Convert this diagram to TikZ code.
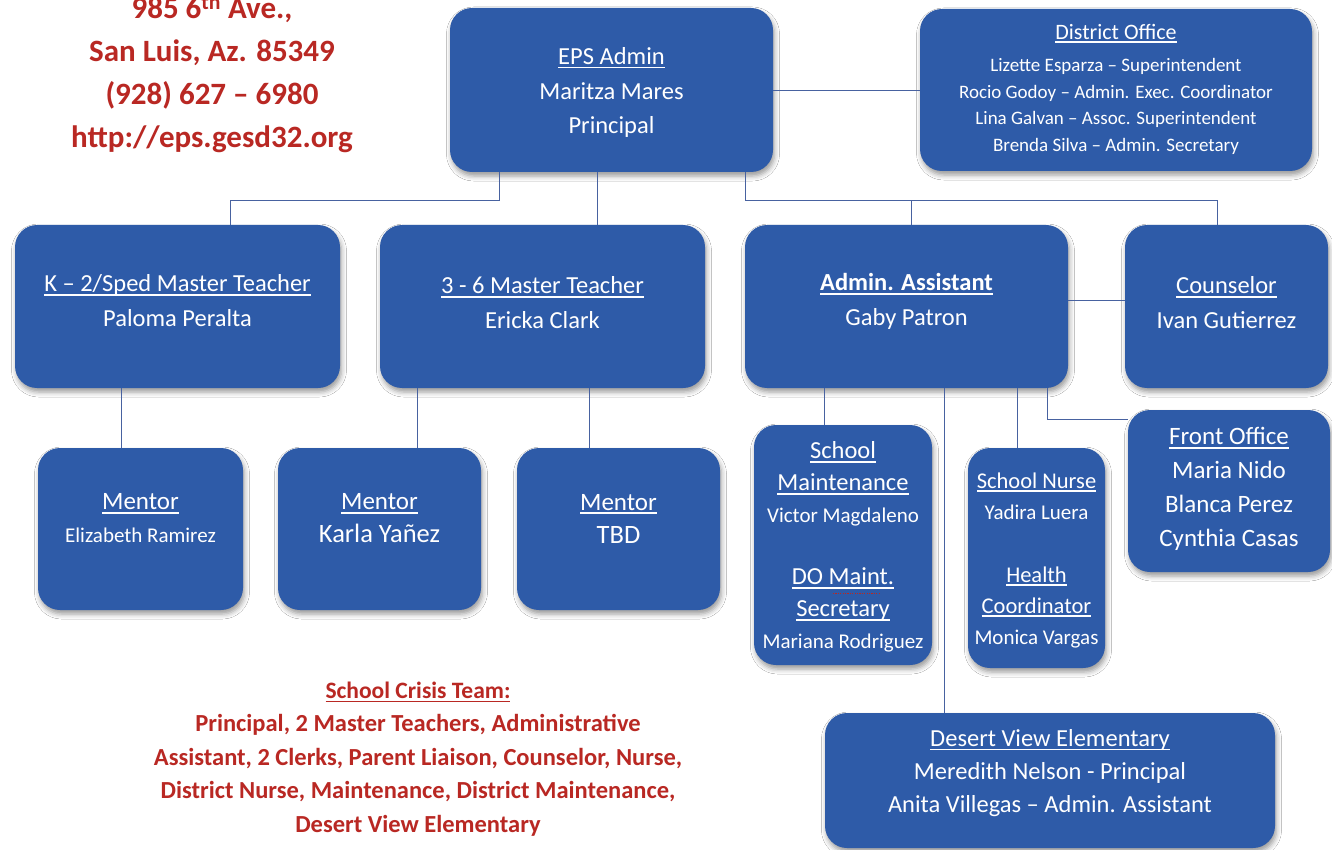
\documentclass[tikz,border=0pt]{standalone}
\usepackage{fontspec}
\setmainfont{Carlito}
\usetikzlibrary{shadows.blur,calc}

\definecolor{boxblue}{RGB}{46,91,168}
\definecolor{linkblue}{RGB}{72,98,160}
\definecolor{crisisred}{RGB}{185,40,35}

% underline at a fixed depth, crossing descenders like a word processor does
\newsavebox\ulbox
\newcommand\ulx[1]{\sbox\ulbox{#1}\rlap{\rule[-0.16em]{\wd\ulbox}{0.065em}}\usebox\ulbox}
\newcommand\fs[2]{\fontsize{#1}{#2}\selectfont}

\tikzset{
  orgbox/.style={draw=none, fill=boxblue, rounded corners=22pt, inner sep=0pt,
    blur shadow={shadow xshift=1.5pt, shadow yshift=-4pt, shadow opacity=40, shadow blur radius=5pt}},
  boxtext/.style={text=white, align=center, inner sep=0pt, font=\fs{24.5}{34.5}},
  link/.style={draw=linkblue, line width=0.9pt},
  redtext/.style={text=crisisred, align=center, inner sep=0pt}
}

\begin{document}
\begin{tikzpicture}[x=1pt,y=-1pt]
\useasboundingbox (0,0) rectangle (1332,850);
\clip (0,0) rectangle (1332,850);
\fill[white] (0,0) rectangle (1332,850);

% ---- boxes ----
\node[orgbox, minimum width=323pt, minimum height=164pt] (eps)   at (611.5,90)  {};
\node[orgbox, minimum width=392pt, minimum height=162pt] (dist)  at (1116,90)   {};
\node[orgbox, minimum width=325pt, minimum height=163pt] (k2)    at (177.5,306.5) {};
\node[orgbox, minimum width=325pt, minimum height=163pt] (t36)   at (542.5,306.5) {};
\node[orgbox, minimum width=323pt, minimum height=163pt] (asst)  at (906.5,306.5) {};
\node[orgbox, minimum width=203pt, minimum height=163pt] (couns) at (1226.5,306.5) {};
\node[orgbox, minimum width=205pt, minimum height=162pt] (m1)    at (140.5,529) {};
\node[orgbox, minimum width=203pt, minimum height=162pt] (m2)    at (379.5,529) {};
\node[orgbox, minimum width=203pt, minimum height=162pt] (m3)    at (618.5,529) {};
\node[orgbox, minimum width=178pt, minimum height=240pt] (maint) at (843,545) {};
\node[orgbox, minimum width=137pt, minimum height=220pt] (nurse) at (1036.5,558) {};
\node[orgbox, minimum width=202pt, minimum height=162pt] (front) at (1229,491) {};
\node[orgbox, minimum width=450pt, minimum height=135pt] (dv)    at (1050,780.5) {};

% ---- connectors ----
\coordinate (busR) at ($(eps.south)+(0,28)$);
\draw[link] (eps.east) -- (dist.west);
\draw[link] ([xshift=50pt]eps.south west) -- ++(0,28) -| ([xshift=216pt]k2.north west);
\draw[link] ([xshift=148pt]eps.south west) -- ([xshift=218pt]t36.north west);
\draw[link] ([xshift=-28pt]eps.south east) -- ++(0,28) -| ([xshift=93pt]couns.north west);
\draw[link] ([xshift=167pt]asst.north west) -- ([xshift=167pt]asst.north west |- busR);
\draw[link] ([yshift=6pt]asst.east) -- ([yshift=6pt]couns.west);
\draw[link] ([xshift=107pt]k2.south west) -- ([xshift=84pt]m1.north west);
\draw[link] ([xshift=38pt]t36.south west) -- ([xshift=140pt]m2.north west);
\draw[link] ([xshift=210pt]t36.south west) -- ([xshift=73pt]m3.north west);
\draw[link] ([xshift=80pt]asst.south west) -- ([xshift=71pt]maint.north west);
\draw[link] ([xshift=200pt]asst.south west) -- ([xshift=120pt]dv.north west);
\draw[link] ([xshift=273pt]asst.south west) -- ([xshift=50pt]nurse.north west);
\draw[link] ([xshift=303pt]asst.south west) |- ([yshift=-10pt]front.north west);

% ---- box texts ----
\node[boxtext] (epst) at (611.5,92.5) {\ulx{EPS Admin}\\Maritza Mares\\Principal};
\node[boxtext, font=\fs{19}{26.5}] (distt) at (1116,89)
  {{\fs{22}{26.5}\ulx{District Office}}\\[6pt]
   Lizette Esparza – Superintendent\\
   Rocio Godoy – Admin. Exec. Coordinator\\
   Lina Galvan – Assoc. Superintendent\\
   Brenda Silva – Admin. Secretary};
\node[boxtext] (k2t)    at (177.5,300.5) {\ulx{K – 2/Sped Master Teacher}\\Paloma Peralta};
\node[boxtext] (t36t)   at (542.5,302.5) {\ulx{3 - 6 Master Teacher}\\Ericka Clark};
\node[boxtext] (asstt)  at (906.5,301.5) {\textbf{\ulx{Admin. Assistant}}\\Gaby Patron};
\node[boxtext] (counst) at (1226.5,302.5) {\ulx{Counselor}\\Ivan Gutierrez};
\node[boxtext, font=\fs{25}{33}] (m1t) at (140.5,518.5) {\ulx{Mentor}\\{\fs{21}{33}Elizabeth Ramirez}};
\node[boxtext, font=\fs{25}{33}] (m2t) at (379.5,518.5) {\ulx{Mentor}\\{\fs{26.5}{33}Karla Yañez}};
\node[boxtext, font=\fs{25}{33}] (m3t) at (618.5,518.5) {\ulx{Mentor}\\{\fs{26.5}{33}TBD}};
\node[boxtext, font=\fs{24.5}{32}] (maintt) at (843,547)
  {\ulx{School}\\\ulx{Maintenance}\\{\fs{21}{32}Victor Magdaleno}\\[30pt]
   \ulx{DO Maint.}\\\ulx{Secretary}\\{\fs{21}{32}Mariana Rodriguez}};
% spell-check squiggle under "Maint"
\draw[crisisred, line width=1pt, dash pattern=on 1.2pt off 1.2pt]
  ($(maint.center)+(-10,48)$) -- ++(47,0);
\node[boxtext, font=\fs{22.5}{31}] (nurset) at (1036.5,560)
  {\ulx{School Nurse}\\{\fs{21}{31}Yadira Luera}\\[32pt]
   \ulx{Health}\\\ulx{Coordinator}\\{\fs{21}{31}Monica Vargas}};
\node[boxtext, font=\fs{25}{34}] (frontt) at (1229,489) {\ulx{Front Office}\\Maria Nido\\Blanca Perez\\Cynthia Casas};
\node[boxtext, font=\fs{24.5}{33}] (dvt) at (1050,773) {\ulx{Desert View Elementary}\\Meredith Nelson - Principal\\Anita Villegas – Admin. Assistant};

% ---- red notes ----
\node[redtext, font=\bfseries\fs{31}{43}] (addr) at (212,74)
  {985 6\textsuperscript{th} Ave.,\\San Luis, Az. 85349\\(928) 627 – 6980\\http://eps.gesd32.org};
\node[redtext, font=\bfseries\fs{24.5}{33.5}] (crisis) at (418,759)
  {{\fs{23.5}{33.5}\ulx{School Crisis Team:}}\\
   Principal, 2 Master Teachers, Administrative\\
   Assistant, 2 Clerks, Parent Liaison, Counselor, Nurse,\\
   District Nurse, Maintenance, District Maintenance,\\
   Desert View Elementary};
\end{tikzpicture}
\end{document}
